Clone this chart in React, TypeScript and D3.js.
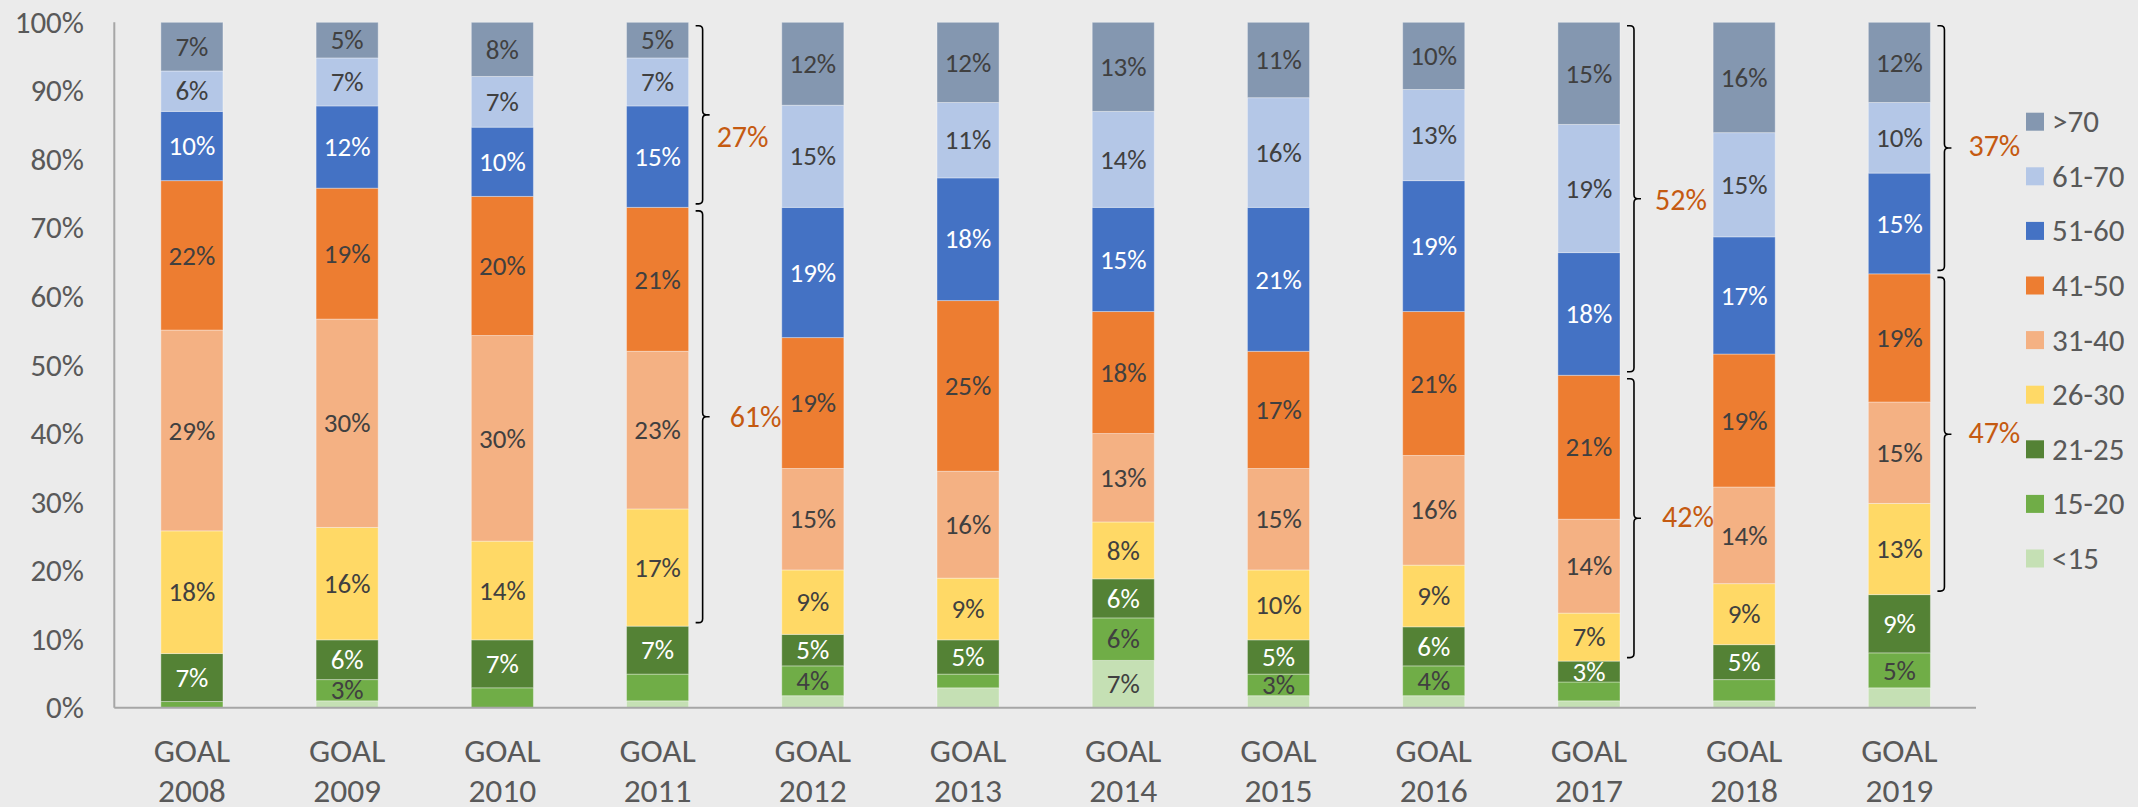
import React from "react";
import * as d3 from "d3";

const years = ["2008", "2009", "2010", "2011", "2012", "2013", "2014", "2015", "2016", "2017", "2018", "2019"];
const categoryPrefix = "GOAL";
const seriesNames = ["<15", "15-20", "21-25", "26-30", "31-40", "41-50", "51-60", "61-70", ">70"];

const under15 = [0, 1.0, 0, 1.0, 1.75, 2.9, 6.9, 1.75, 1.75, 1.0, 1.0, 2.9];
const s15_20 = [0.9, 3.1, 2.9, 3.9, 4.35, 2.0, 6.2, 3.15, 4.35, 2.75, 3.1, 5.1];
const s21_25 = [7.0, 5.8, 7.0, 7.0, 4.6, 5.0, 5.7, 5.0, 5.7, 3.05, 5.1, 8.5];
const s26_30 = [17.9, 16.4, 14.4, 17.1, 9.4, 9.0, 8.3, 10.2, 9.0, 7.0, 8.9, 13.3];
const s31_40 = [29.3, 30.4, 30.0, 23.0, 14.8, 15.6, 12.9, 14.8, 16.0, 13.7, 14.1, 14.8];
const s41_50 = [21.8, 19.1, 20.3, 21.0, 19.1, 24.9, 17.8, 17.1, 21.0, 21.0, 19.4, 18.7];
const s51_60 = [10.1, 12.0, 10.1, 14.8, 19.0, 17.9, 15.2, 21.0, 19.1, 17.9, 17.1, 14.7];
const s61_70 = [5.9, 7.0, 7.4, 7.0, 14.9, 11.0, 14.0, 16.0, 13.3, 18.7, 15.2, 10.3];
const over70 = [7.1, 5.2, 7.9, 5.2, 12.1, 11.7, 13.0, 11.0, 9.8, 14.9, 16.1, 11.7];

// years for which the two smallest series carry a data label
const under15Labelled = ["2014"];
const s15_20Labelled = ["2009", "2012", "2014", "2015", "2016", "2019"];

const yTicks = [0, 10, 20, 30, 40, 50, 60, 70, 80, 90, 100];

// brace annotations: year, lowest series, highest series
const braceYears = ["2011", "2011", "2017", "2017", "2019", "2019"];
const braceFrom = ["51-60", "26-30", "51-60", "26-30", "51-60", "26-30"];
const braceTo = [">70", "41-50", ">70", "41-50", ">70", "41-50"];

const seriesValues: Record<string, number[]> = {
  "<15": under15,
  "15-20": s15_20,
  "21-25": s21_25,
  "26-30": s26_30,
  "31-40": s31_40,
  "41-50": s41_50,
  "51-60": s51_60,
  "61-70": s61_70,
  ">70": over70,
};

const colors: Record<string, string> = {
  "<15": "#C5E0B4",
  "15-20": "#70AD47",
  "21-25": "#548235",
  "26-30": "#FFD966",
  "31-40": "#F4B183",
  "41-50": "#ED7D31",
  "51-60": "#4472C4",
  "61-70": "#B4C7E7",
  ">70": "#8497B0",
};
const whiteLabelSeries = ["51-60", "21-25"];

// layout for brace label placement (dx from brace line, dy from middle tick)
const braceLabelLayout = [
  { dx: 14, dy: 22 },
  { dx: 27, dy: 0 },
  { dx: 21, dy: 1 },
  { dx: 28, dy: -1 },
  { dx: 24, dy: -2 },
  { dx: 24, dy: -1 },
];

const W = 2138;
const H = 807;
const FONT = "Carlito, Calibri, Lato, sans-serif";

export default function App() {
  const x = d3.scaleBand<string>().domain(years).range([114.3, 1977]).paddingInner(0.6).paddingOuter(0.3);
  const y = d3.scaleLinear().domain([0, 100]).range([707.7, 22.3]);

  const rows = years.map((yr, i) => {
    const r: any = { year: yr };
    seriesNames.forEach((s) => (r[s] = seriesValues[s][i]));
    return r;
  });
  const stacked = d3.stack<any>().keys(seriesNames)(rows);
  const stackByKey: Record<string, any> = {};
  stacked.forEach((s) => (stackByKey[s.key] = s));

  const showLabel = (key: string, yr: string) => {
    if (key === "<15") return under15Labelled.includes(yr);
    if (key === "15-20") return s15_20Labelled.includes(yr);
    return true;
  };

  const bw = x.bandwidth();

  const bracePath = (x0: number, yTop: number, yBot: number) => {
    const yMid = (yTop + yBot) / 2;
    const h = 7;
    const r = 4;
    return (
      `M${x0 - h},${yTop} L${x0 - r},${yTop} Q${x0},${yTop} ${x0},${yTop + r} ` +
      `L${x0},${yMid - r} Q${x0},${yMid} ${x0 + r},${yMid} L${x0 + h},${yMid} ` +
      `M${x0 + r},${yMid} Q${x0},${yMid} ${x0},${yMid + r} ` +
      `L${x0},${yBot - r} Q${x0},${yBot} ${x0 - r},${yBot} L${x0 - h},${yBot}`
    );
  };

  const legendItems = [...seriesNames].reverse();

  return (
    <svg
      width={W}
      height={H}
      style={{ position: "absolute", left: 0, top: 0, display: "block", background: "#EBEBEB" }}
      fontFamily={FONT}
    >
      <rect x={0} y={0} width={W} height={H} fill="#EBEBEB" />

      {/* bars */}
      {stacked.map((s) => (
        <g key={s.key}>
          {s.map((d: any, i: number) => {
            const yr = years[i];
            const y0 = y(d[0]);
            const y1 = y(d[1]);
            return (
              <rect
                key={yr}
                x={x(yr)}
                y={y1}
                width={bw}
                height={Math.max(0, y0 - y1)}
                fill={colors[s.key]}
                stroke="rgba(255,255,255,0.35)"
                strokeWidth={1}
              />
            );
          })}
        </g>
      ))}

      {/* data labels */}
      {stacked.map((s) => (
        <g key={"l" + s.key}>
          {s.map((d: any, i: number) => {
            const yr = years[i];
            const v = d[1] - d[0];
            if (!showLabel(s.key, yr) || v <= 0) return null;
            return (
              <text
                key={yr}
                x={(x(yr) as number) + bw / 2}
                y={(y(d[0]) + y(d[1])) / 2}
                dy="0.34em"
                textAnchor="middle"
                fontSize={27}
                fill={whiteLabelSeries.includes(s.key) ? "#FFFFFF" : "#404040"}
              >
                {Math.round(v)}%
              </text>
            );
          })}
        </g>
      ))}

      {/* axes */}
      <line x1={114.3} x2={114.3} y1={y(100)} y2={y(0)} stroke="#A6A6A6" strokeWidth={2} />
      <line x1={114.3} x2={1976} y1={y(0)} y2={y(0)} stroke="#A6A6A6" strokeWidth={2} />

      {yTicks.map((t) => (
        <text key={t} x={84} y={y(t)} dy="0.34em" textAnchor="end" fontSize={31} fill="#595959">
          {t}%
        </text>
      ))}

      {years.map((yr) => (
        <text key={yr} textAnchor="middle" fontSize={33.5} fill="#595959">
          <tspan x={(x(yr) as number) + bw / 2} y={761.5}>
            {categoryPrefix}
          </tspan>
          <tspan x={(x(yr) as number) + bw / 2} y={802}>
            {yr}
          </tspan>
        </text>
      ))}

      {/* braces */}
      {braceYears.map((yr, k) => {
        const i = years.indexOf(yr);
        const lo = stackByKey[braceFrom[k]][i][0];
        const hi = stackByKey[braceTo[k]][i][1];
        const yTop = y(hi) + 3.5;
        const yBot = y(lo) - 3.5;
        const x0 = (x(yr) as number) + bw + 14;
        const yMid = (yTop + yBot) / 2;
        const fromIdx = seriesNames.indexOf(braceFrom[k]);
        const toIdx = seriesNames.indexOf(braceTo[k]);
        let total = 0;
        for (let j = fromIdx; j <= toIdx; j++) total += Math.round(seriesValues[seriesNames[j]][i]);
        const lay = braceLabelLayout[k];
        return (
          <g key={k}>
            <path d={bracePath(x0, yTop, yBot)} fill="none" stroke="#000000" strokeWidth={1.6} />
            <text x={x0 + lay.dx} y={yMid + lay.dy} dy="0.34em" fontSize={30} fill="#C55A11">
              {total}%
            </text>
          </g>
        );
      })}

      {/* legend */}
      {legendItems.map((s, i) => (
        <g key={s} transform={`translate(2026, ${112.7 + i * 54.6})`}>
          <rect x={0} y={0} width={18} height={18} fill={colors[s]} />
          <text x={26} y={9} dy="0.34em" fontSize={31} fill="#595959">
            {s}
          </text>
        </g>
      ))}
    </svg>
  );
}
